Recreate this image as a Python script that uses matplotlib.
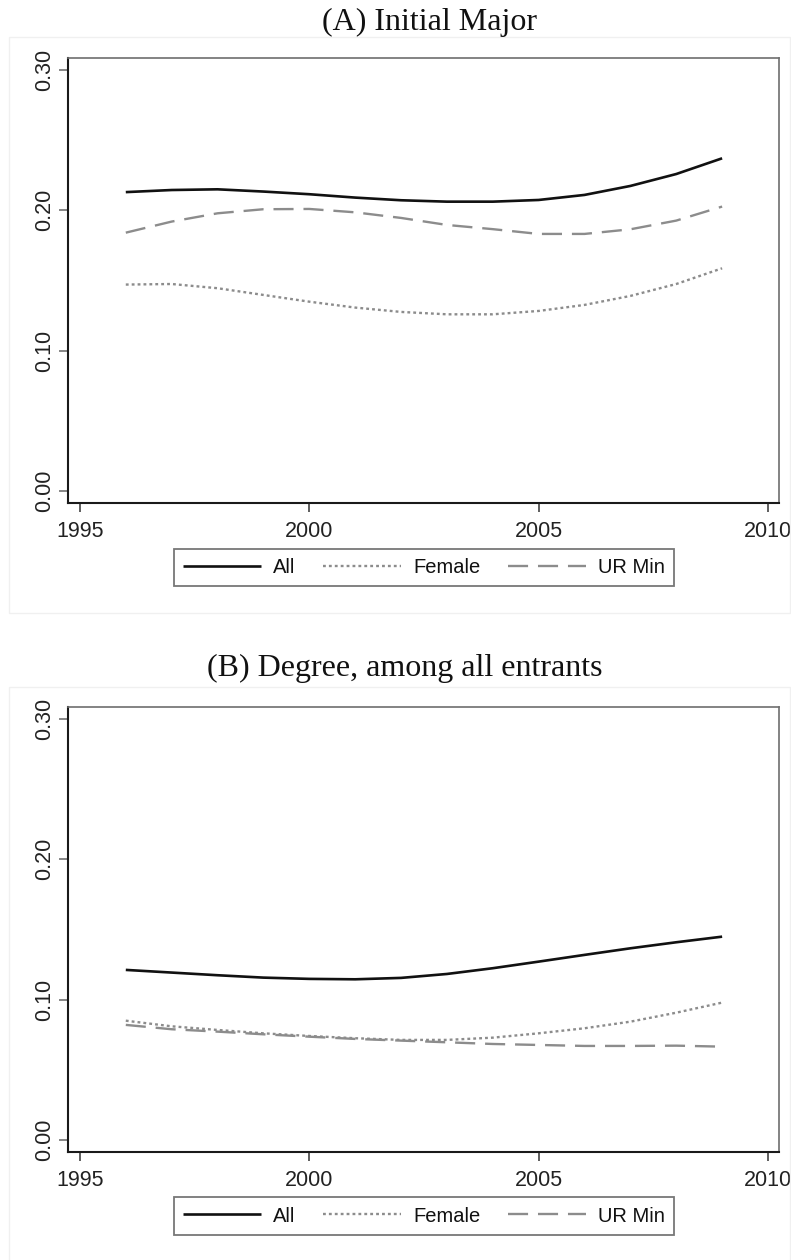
import matplotlib
matplotlib.use("Agg")
import matplotlib.pyplot as plt
from matplotlib.patches import Rectangle

# Years on the x axis
years = list(range(1996, 2010))

# (A) Initial Major
major_all = [0.213, 0.2145, 0.215, 0.2134, 0.2115, 0.2091, 0.2072,
             0.2062, 0.2062, 0.2074, 0.2110, 0.2174, 0.2259, 0.2371]
major_female = [0.1471, 0.1475, 0.1445, 0.1397, 0.1349, 0.1307, 0.1276,
                0.1259, 0.1259, 0.1283, 0.1326, 0.1390, 0.1475, 0.1587]
major_urmin = [0.1841, 0.1920, 0.1979, 0.2008, 0.2010, 0.1986, 0.1946,
               0.1896, 0.1866, 0.1832, 0.1832, 0.1865, 0.1927, 0.2027]

# (B) Degree, among all entrants
degree_all = [0.1212, 0.1193, 0.1174, 0.1157, 0.1148, 0.1145, 0.1155,
              0.1183, 0.1224, 0.1271, 0.1319, 0.1366, 0.1409, 0.1449]
degree_female = [0.0850, 0.0810, 0.0784, 0.0760, 0.0741, 0.0725, 0.0713,
                 0.0713, 0.0729, 0.0760, 0.0796, 0.0843, 0.0907, 0.0979]
degree_urmin = [0.0820, 0.0789, 0.0772, 0.0753, 0.0736, 0.0720, 0.0708,
                0.0696, 0.0684, 0.0677, 0.0670, 0.0670, 0.0672, 0.0665]

panel_titles = ["(A) Initial Major", "(B) Degree, among all entrants"]
series_labels = ["All", "Female", "UR Min"]
x_ticks = [1995, 2000, 2005, 2010]
y_ticks = [0.0, 0.1, 0.2, 0.3]

W, H = 791, 1260
fig = plt.figure(figsize=(W / 100, H / 100), dpi=100)

SANS = ["Liberation Sans", "DejaVu Sans"]
SERIF = ["Liberation Serif", "DejaVu Serif"]
GRAY = "#8c8c8c"


def px_box(left, top, right, bottom):
    """Convert a pixel box (top-left origin) to figure fractions."""
    return [left / W, 1 - bottom / H, (right - left) / W, (bottom - top) / H]


def draw_panel(ax, all_vals, female_vals, urmin_vals, title, title_x, title_y, legend_y):
    ax.plot(years, all_vals, color="#111111", lw=1.9, solid_capstyle="butt",
            label=series_labels[0])
    ax.plot(years, female_vals, color=GRAY, lw=1.7, dashes=(1.2, 1.3),
            label=series_labels[1])
    ax.plot(years, urmin_vals, color=GRAY, lw=1.7, dashes=(8.5, 4.2),
            label=series_labels[2])

    ax.set_xlim(1994.74, 2010.24)
    ax.set_ylim(-0.0086, 0.3086)
    ax.set_xticks(x_ticks)
    ax.set_xticklabels([str(t) for t in x_ticks], family=SANS, fontsize=15.5,
                       color="#222222")
    ax.set_yticks(y_ticks)
    ax.set_yticklabels([f"{t:.2f}" for t in y_ticks], family=SANS, fontsize=15.5,
                       color="#222222", rotation=90, va="center")
    ax.tick_params(axis="x", length=6.5, width=1.1, color="#333333", pad=6.5)
    ax.tick_params(axis="y", length=6.5, width=1.1, color="#666666", pad=3)

    for side in ["left", "bottom"]:
        ax.spines[side].set_color("#1a1a1a")
        ax.spines[side].set_linewidth(1.5)
    for side in ["top", "right"]:
        ax.spines[side].set_color("#6e6e6e")
        ax.spines[side].set_linewidth(1.2)

    leg = ax.legend(loc="center", bbox_to_anchor=(424 / W, 1 - legend_y / H),
                    bbox_transform=fig.transFigure, ncol=3, frameon=True,
                    fancybox=False, prop={"family": SANS, "size": 14.5},
                    handlelength=3.9, handletextpad=0.6, columnspacing=1.35,
                    borderpad=0.45, borderaxespad=0)
    leg.get_frame().set_edgecolor("#555555")
    leg.get_frame().set_linewidth(1.3)
    for t in leg.get_texts():
        t.set_color("#111111")

    fig.text(title_x / W, 1 - title_y / H, title, family=SERIF, fontsize=23,
             ha="center", va="center", color="#111111")


# Faint outer frames around each graph region
for top, bottom in [(37, 613), (687, 1275)]:
    fig.patches.append(Rectangle((9 / W, 1 - bottom / H), (790 - 9) / W,
                                 (bottom - top) / H, transform=fig.transFigure,
                                 fill=False, edgecolor="#f0f0f0", lw=1.0))

ax_a = fig.add_axes(px_box(68, 58, 779, 503))
draw_panel(ax_a, major_all, major_female, major_urmin, panel_titles[0],
           429, 22, 567.5)

ax_b = fig.add_axes(px_box(68, 707, 779, 1152))
draw_panel(ax_b, degree_all, degree_female, degree_urmin, panel_titles[1],
           405, 668, 1216)

fig.savefig("out.png", dpi=100, facecolor="white")
